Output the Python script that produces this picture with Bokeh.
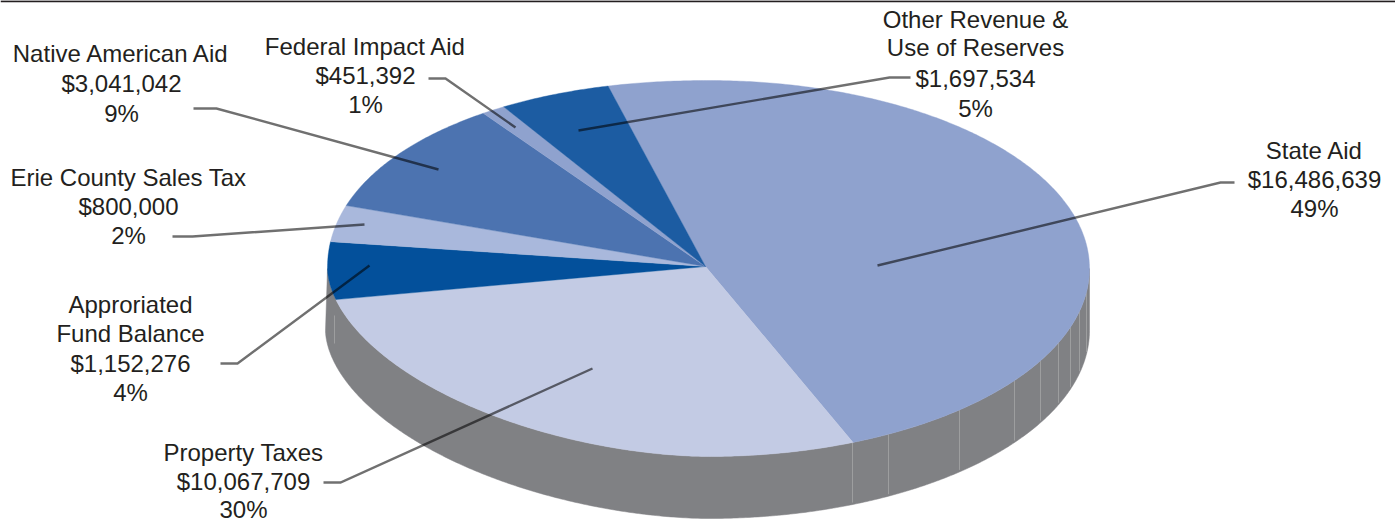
import numpy as np
from bokeh.plotting import figure
from bokeh.models import Range1d, ColumnDataSource
from bokeh.core.properties import value
from bokeh.embed import file_html
from bokeh.resources import INLINE

# Slices, clockwise from the top-left edge of State Aid
names = ["State Aid", "Property Taxes", "Approriated Fund Balance", "Erie County Sales Tax",
         "Native American Aid", "Federal Impact Aid", "Other Revenue & Use of Reserves"]
dollars = [16486639, 10067709, 1152276, 800000, 3041042, 451392, 1697534]
percents = [49, 30, 4, 2, 9, 1, 5]
# Share of the drawn disc (degrees of sweep)
drawn_sweep = [172.9, 102.7, 17.8, 11.2, 35.0, 3.6, 16.8]
colors = ["#8FA2CE", "#C3CBE4", "#03509B", "#A9B8DC", "#4C73B0", "#8FA2CE", "#1C5CA2"]

label_lines = [
    ["State Aid", "$16,486,639", "49%"],
    ["Property Taxes", "$10,067,709", "30%"],
    ["Approriated", "Fund Balance", "$1,152,276", "4%"],
    ["Erie County Sales Tax", "$800,000", "2%"],
    ["Native American Aid", "$3,041,042", "9%"],
    ["Federal Impact Aid", "$451,392", "1%"],
    ["Other Revenue &", "Use of Reserves", "$1,697,534", "5%"],
]
label_cx = [1314, 243, 130, 128, 121, 365, 975]
label_y = [
    [150, 179, 208],
    [452, 481, 509],
    [304, 333, 363, 392],
    [177, 206, 235],
    [53, 83, 113],
    [46, 75, 104],
    [19, 47, 78, 108],
]
leader_x = [[1234, 1220, 877], [323, 340, 592], [220, 237, 369], [172, 192, 364],
            [193, 216, 438], [428, 445, 515], [910, 889, 578]]
leader_y = [[182, 182, 265], [482, 482, 368], [363, 363, 265], [236, 236, 224],
            [108, 108, 169], [78, 78, 127], [77, 77, 130]]
seam_x = [852, 888, 959, 1014, 1040, 1058, 1070, 1079, 1086]
left_seam_x = [334]
left_seam_y0 = [315]
left_seam_y1 = [343]

CX, CY, RX, RY, DEPTH = 708, 268, 381, 188, 62
HUB_X, HUB_Y = 705, 266
START_ANGLE = 105.2
SIDE = "#808184"
SEAM = "#A0A1A3"
INK = "#231F20"

p = figure(width=1395, height=522, output_backend="svg", toolbar_location=None,
           x_range=Range1d(0, 1395), y_range=Range1d(522, 0),
           min_border=0, outline_line_color=None, background_fill_color="white",
           border_fill_color="white")
p.axis.visible = False
p.grid.visible = False
p.styles = {"position": "absolute", "left": "0px", "top": "0px"}


def exponent(deg):
    """The disc is flatter towards the lower left, a little fuller at upper left."""
    d = np.mod(deg, 360)
    return np.where((d > 180) & (d < 270), 1.8, np.where((d > 90) & (d <= 180), 2.1, 2.0))


def arc(a0, a1, n=240, dy=0.0, grow=0.0):
    a = np.linspace(a0, a1, n)
    t = np.radians(a)
    c, s = np.cos(t), np.sin(t)
    k = exponent(a)
    r = 1.0 / (np.abs(c) ** k + np.abs(s) ** k) ** (1.0 / k)
    rx = RX + np.where(c < 0, grow, 0.0)
    return CX + rx * r * c, CY - RY * r * s + dy


# rim
xa, ya = arc(180, 360, n=400)
xb, yb = arc(360, 180, n=400, dy=DEPTH, grow=2.0)
p.patch(np.r_[xa, xb], np.r_[ya, yb], fill_color=SIDE, line_color=SIDE, line_width=0.5)

# seams in the rim
sx = np.array(seam_x, dtype=float)
half = RY * np.sqrt(np.maximum(0, 1 - ((sx - CX) / RX) ** 2))
p.segment(sx, CY + half, sx, CY + half + DEPTH - 2, line_color=SEAM, line_width=0.9)
p.segment(left_seam_x, left_seam_y0, left_seam_x, left_seam_y1, line_color=SEAM, line_width=0.9)

# top face
edges = START_ANGLE - np.r_[0, np.cumsum(drawn_sweep)]
xs, ys = [], []
for a0, a1 in zip(edges[:-1], edges[1:]):
    x, y = arc(a0, a1, n=int(abs(a0 - a1) * 2) + 3)
    xs.append(np.r_[HUB_X, x].tolist())
    ys.append(np.r_[HUB_Y, y].tolist())
p.patches(xs, ys, fill_color=colors, line_color=colors, line_width=0.4)

# rule along the top of the page
p.line([0, 1395], [0.8, 0.8], line_color=INK, line_width=2)

# leaders
p.multi_line(leader_x, leader_y, line_color="black", line_alpha=0.56, line_width=2.4,
             line_join="miter")

# labels
tx, ty, tt = [], [], []
for lines, cx, ys_ in zip(label_lines, label_cx, label_y):
    for s, y in zip(lines, ys_):
        tx.append(cx)
        ty.append(y)
        tt.append(s)
p.text(x="x", y="y", text="t", source=ColumnDataSource(dict(x=tx, y=ty, t=tt)),
       text_font=value("Liberation Sans"), text_font_size="24px", text_color=INK,
       text_align="center", text_baseline="middle")

open("out.html", "w").write(file_html(p, INLINE))
